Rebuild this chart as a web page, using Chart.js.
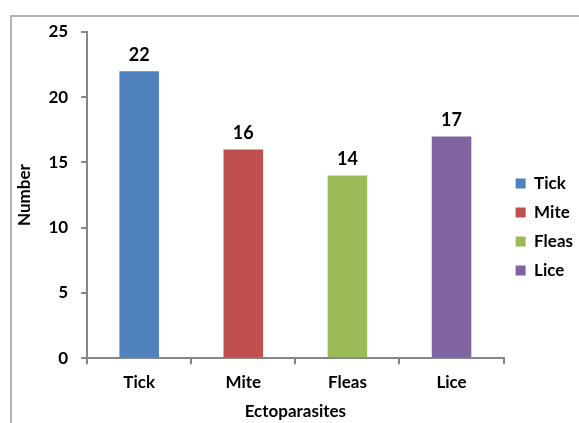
<!DOCTYPE html>
<html>
<head>
<meta charset="utf-8">
<script src="https://cdn.jsdelivr.net/npm/chart.js@4"></script>
<style>
  html, body { margin: 0; padding: 0; background: #fff; overflow: hidden; }
  #frame {
    position: absolute; left: 10px; top: 15px; width: 569px; height: 408px;
    border-top: 2px solid #b3b3b3; border-left: 2px solid #b3b3b3; box-sizing: border-box;
  }
  #wrap { position: absolute; left: 0; top: 0; width: 583px; height: 423px; }
</style>
</head>
<body>
<div id="frame"></div>
<div id="wrap"><canvas id="myChart"></canvas></div>
<script>
  var categories = ["Tick", "Mite", "Fleas", "Lice"];
  var counts = [22, 16, 14, 17];
  var barColors = ["#4f81bd", "#c0504d", "#9bbb59", "#8064a2"];
  var yTicks = [0, 5, 10, 15, 20, 25];

  var fontFamily = "Lato, 'Liberation Sans', sans-serif";
  var axisGray = "#868686";

  // value labels over each bar
  var barValues = {
    id: "barValues",
    afterDatasetsDraw: function(chart) {
      let ctx = chart.ctx;
      let meta = chart.getDatasetMeta(0);
      ctx.save();
      ctx.font = "bold 18px " + fontFamily;
      ctx.fillStyle = "#000";
      ctx.textAlign = "center";
      ctx.textBaseline = "bottom";
      meta.data.forEach(function(bar, i) {
        ctx.fillText(counts[i], bar.x, bar.y - 7);
      });
      ctx.restore();
    }
  };

  let ctx = document.getElementById("myChart").getContext("2d");
  myChart = new Chart(ctx, {
    type: "bar",
    data: {
      labels: categories,
      datasets: [
        {
          label: "Number",
          data: counts,
          backgroundColor: barColors,
          borderWidth: 0,
          barPercentage: 0.38,
          categoryPercentage: 1
        }
      ]
    },
    options: {
      responsive: true,
      maintainAspectRatio: false,
      animation: false,
      layout: { padding: { left: 14, top: 32, right: 0, bottom: 1 } },
      plugins: {
        tooltip: { enabled: false },
        legend: {
          position: "right",
          align: "center",
          labels: {
            boxWidth: 10,
            boxHeight: 10,
            padding: 12,
            color: "#000",
            font: { family: fontFamily, size: 17, weight: "bold" },
            generateLabels: function(chart) {
              return categories.map(function(c, i) {
                return { text: c, fillStyle: barColors[i], strokeStyle: barColors[i], lineWidth: 0, index: i };
              });
            }
          }
        }
      },
      scales: {
        x: {
          grid: { drawOnChartArea: false, offset: true, tickLength: 6, color: axisGray, lineWidth: 2 },
          border: { color: axisGray, width: 2 },
          ticks: { color: "#000", padding: 8, font: { family: fontFamily, size: 17, weight: "bold" } },
          title: {
            display: true,
            text: "Ectoparasites",
            color: "#000",
            padding: { top: 1, bottom: 0 },
            font: { family: fontFamily, size: 17, weight: "bold" }
          }
        },
        y: {
          min: 0,
          max: 25,
          afterBuildTicks: function(axis) {
            axis.ticks = yTicks.map(function(v) { return { value: v }; });
          },
          grid: { drawOnChartArea: false, tickLength: 6, color: axisGray, lineWidth: 2 },
          border: { color: axisGray, width: 2 },
          ticks: { color: "#000", padding: 13, font: { family: fontFamily, size: 17, weight: "bold" } },
          title: {
            display: true,
            text: "Number",
            color: "#000",
            padding: { top: 0, bottom: 1 },
            font: { family: fontFamily, size: 17, weight: "bold" }
          }
        }
      }
    },
    plugins: [barValues]
  });
</script>
</body>
</html>
